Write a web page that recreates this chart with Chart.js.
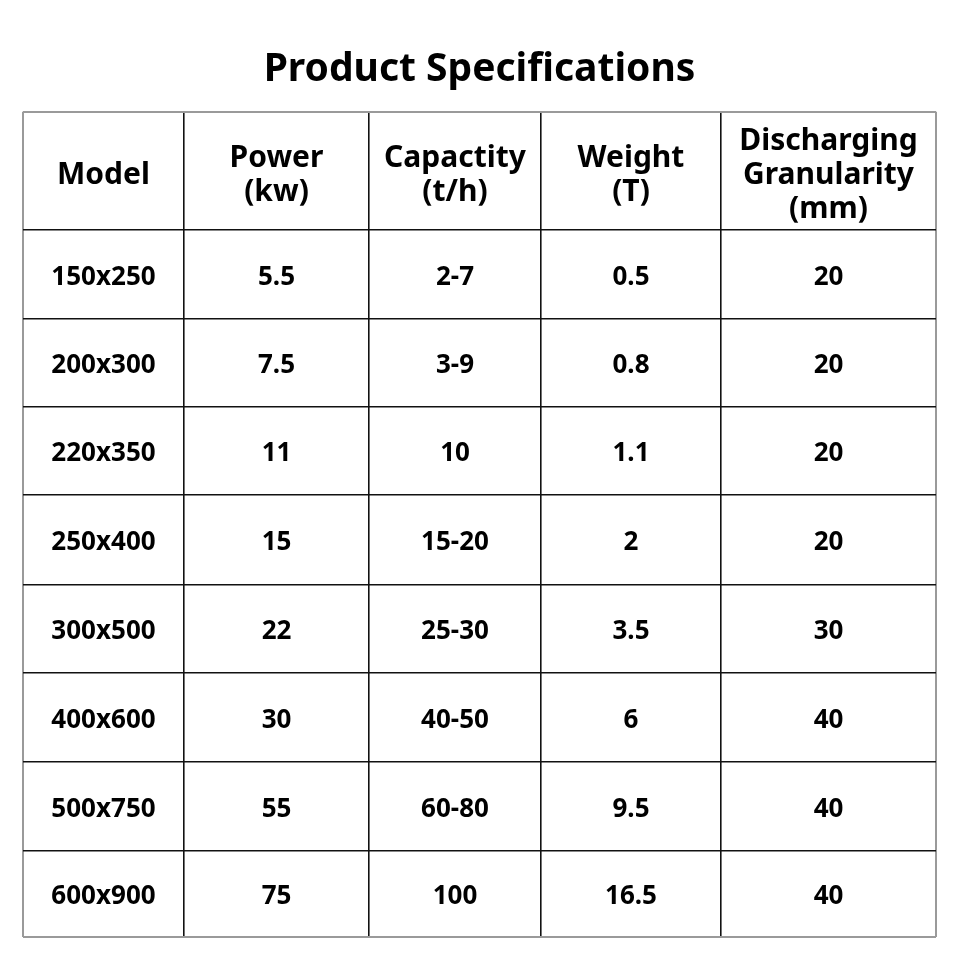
<!DOCTYPE html>
<html>
<head>
<meta charset="utf-8">
<title>Product Specifications</title>
<script src="https://cdn.jsdelivr.net/npm/chart.js@4.4.1/dist/chart.umd.min.js"></script>
<style>
  html, body { margin: 0; padding: 0; background: #fff; }
  #wrap { width: 960px; height: 960px; }
</style>
</head>
<body>
<div id="wrap"><canvas id="specChart"></canvas></div>
<script>
// table contents
const headers = [
  ['Model'],
  ['Power', '(kw)'],
  ['Capactity', '(t/h)'],
  ['Weight', '(T)'],
  ['Discharging', 'Granularity', '(mm)']
];
const models = ['150x250', '200x300', '220x350', '250x400', '300x500', '400x600', '500x750', '600x900'];
const power = ['5.5', '7.5', '11', '15', '22', '30', '55', '75'];
const capacity = ['2-7', '3-9', '10', '15-20', '25-30', '40-50', '60-80', '100'];
const weight = ['0.5', '0.8', '1.1', '2', '3.5', '6', '9.5', '16.5'];
const granularity = ['20', '20', '20', '20', '30', '40', '40', '40'];

// grid layout (scale units = px inside the table)
const colEdges = [0, 161, 346, 518, 698, 913];
const rowEdges = [0, 118, 207, 295, 383, 473, 561, 650, 739, 825];

const columns = [models, power, capacity, weight, granularity];
const mid = (edges, i) => (edges[i] + edges[i + 1]) / 2;

// one point per cell, placed in its cell centre
const cells = [];
headers.forEach((lines, c) => {
  cells.push({ x: mid(colEdges, c), y: mid(rowEdges, 0), lines: lines, head: true });
});
columns.forEach((col, c) => {
  col.forEach((txt, r) => {
    cells.push({ x: mid(colEdges, c), y: mid(rowEdges, r + 1), lines: [txt], head: false });
  });
});

const FONT = '"Noto Sans", "Open Sans", sans-serif';

const cellText = {
  id: 'cellText',
  afterDatasetsDraw(chart) {
    const ctx = chart.ctx;
    const meta = chart.getDatasetMeta(0);
    ctx.save();
    ctx.fillStyle = '#000';
    ctx.textAlign = 'center';
    ctx.textBaseline = 'middle';
    meta.data.forEach((pt, i) => {
      const cell = cells[i];
      const size = cell.head ? 30 : 26;
      const lh = 34;
      const nudge = cell.head ? 5 : 3; // Noto sits a bit high with 'middle'
      ctx.font = 'bold ' + size + 'px ' + FONT;
      const top = pt.y + nudge - (cell.lines.length - 1) * lh / 2;
      cell.lines.forEach((line, k) => {
        ctx.fillText(line, pt.x, top + k * lh);
      });
    });
    ctx.restore();
  }
};

const edgeColor = (edges) => (c) =>
  (c.index === 0 || c.index === edges.length - 1) ? '#9a9a9a' : '#111';
const edgeWidth = (edges) => (c) =>
  (c.index === 0 || c.index === edges.length - 1) ? 2 : 1.6;

new Chart(document.getElementById('specChart'), {
  type: 'scatter',
  data: {
    datasets: [{
      data: cells,
      pointRadius: 0,
      pointHoverRadius: 0
    }]
  },
  options: {
    responsive: true,
    maintainAspectRatio: false,
    animation: false,
    events: [],
    layout: { padding: { left: 23, right: 24, top: 0, bottom: 23 } },
    plugins: {
      legend: { display: false },
      tooltip: { enabled: false },
      title: {
        display: true,
        text: 'Product Specifications',
        color: '#000',
        font: { family: FONT, size: 39, weight: 'bold' },
        padding: { top: 46, bottom: 19 }
      }
    },
    scales: {
      x: {
        type: 'linear',
        min: colEdges[0],
        max: colEdges[colEdges.length - 1],
        afterBuildTicks: (s) => { s.ticks = colEdges.map(v => ({ value: v })); },
        ticks: { display: false },
        border: { display: false },
        grid: { drawTicks: false, color: edgeColor(colEdges), lineWidth: edgeWidth(colEdges) }
      },
      y: {
        type: 'linear',
        reverse: true,
        min: rowEdges[0],
        max: rowEdges[rowEdges.length - 1],
        afterBuildTicks: (s) => { s.ticks = rowEdges.map(v => ({ value: v })); },
        ticks: { display: false },
        border: { display: false },
        grid: { drawTicks: false, color: edgeColor(rowEdges), lineWidth: edgeWidth(rowEdges) }
      }
    }
  },
  plugins: [cellText]
});
</script>
</body>
</html>
